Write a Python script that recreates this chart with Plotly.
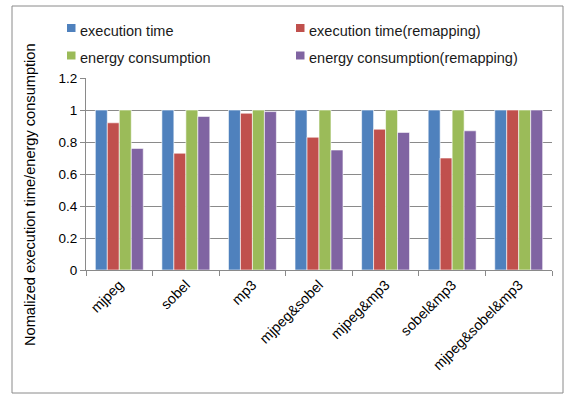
import plotly.graph_objects as go

categories = ["mjpeg", "sobel", "mp3", "mjpeg&sobel", "mjpeg&mp3", "sobel&mp3", "mjpeg&sobel&mp3"]
exec_time = [1, 1, 1, 1, 1, 1, 1]
exec_time_remap = [0.92, 0.73, 0.98, 0.83, 0.88, 0.70, 1.0]
energy = [1, 1, 1, 1, 1, 1, 1]
energy_remap = [0.76, 0.96, 0.99, 0.75, 0.86, 0.87, 1.0]

series = [
    ("execution time", exec_time, "#4F81BD"),
    ("execution time(remapping)", exec_time_remap, "#C0504D"),
    ("energy consumption", energy, "#9BBB59"),
    ("energy consumption(remapping)", energy_remap, "#8064A2"),
]

FONT = "Liberation Sans, Arial, sans-serif"
GRID = "#8a8a8a"

fig = go.Figure()
for name, vals, color in series:
    fig.add_trace(go.Bar(
        x=categories, y=vals, name=name, showlegend=False,
        marker=dict(color=color, line=dict(color="white", width=0.6)),
    ))

W, H = 571, 399
L, R, T, B = 86, 19, 78, 129
pw, ph = W - L - R, H - T - B

def px_x(p):
    return (p - L) / pw

def px_y(p):
    return (H - B - p) / ph

# two-column legend block above the plot area
shapes = []
annotations = []
legend_cols = [67, 296]
legend_rows = [28, 55.5]
for i, (name, _, color) in enumerate(series):
    cx = legend_cols[i % 2]
    cy = legend_rows[i // 2]
    shapes.append(dict(
        type="rect", xref="paper", yref="paper",
        x0=px_x(cx), x1=px_x(cx + 8.5), y0=px_y(cy + 4), y1=px_y(cy - 4),
        line=dict(width=0), fillcolor=color,
    ))
    annotations.append(dict(
        text=name, xref="paper", yref="paper",
        x=px_x(cx + 10.5), y=px_y(cy + 2.5), xanchor="left", yanchor="middle",
        showarrow=False, font=dict(family=FONT, size=14.5, color="#1a1a1a"),
    ))

# axis title set beside the tick labels
annotations.append(dict(
    text="Nomalized execution time/energy consumption",
    xref="paper", yref="paper", x=px_x(30), y=px_y(195),
    xanchor="center", yanchor="middle", textangle=-90, showarrow=False,
    font=dict(family=FONT, size=14.6, color="black"),
))

# chart frame
shapes.append(dict(
    type="rect", xref="paper", yref="paper",
    x0=px_x(12), x1=px_x(563), y0=px_y(393), y1=px_y(6),
    line=dict(color=GRID, width=1), fillcolor="rgba(0,0,0,0)", layer="below",
))

fig.update_layout(
    width=W, height=H,
    margin=dict(l=L, r=R, t=T, b=B),
    paper_bgcolor="white", plot_bgcolor="white",
    font=dict(family=FONT, size=13, color="black"),
    barmode="group", bargap=0.28, bargroupgap=0,
    showlegend=False,
    xaxis=dict(
        showline=True, linecolor=GRID, linewidth=1,
        ticks="outside", tickson="boundaries", ticklen=5, tickcolor=GRID,
        tickangle=-45, tickfont=dict(size=14.3),
        showgrid=False,
    ),
    yaxis=dict(
        range=[0, 1.2], dtick=0.2, tickformat="~g",
        showline=True, linecolor=GRID, linewidth=1,
        ticks="outside", ticklen=5, tickcolor=GRID,
        showgrid=True, gridcolor=GRID, gridwidth=1,
        tickfont=dict(size=13.5),
        zeroline=False,
    ),
    shapes=shapes,
    annotations=annotations,
)

fig.write_html("out.html")
